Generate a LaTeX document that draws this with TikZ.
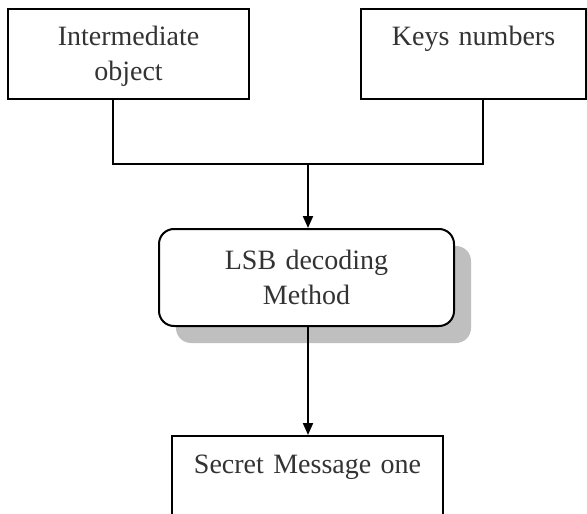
\documentclass[tikz,border=0pt]{standalone}
\usepackage{fontspec}
\setmainfont{Liberation Serif}
\usetikzlibrary{arrows.meta,shadows}
\colorlet{tcol}{black!80}
\tikzstyle{box}=[draw, line width=1pt, inner xsep=0pt, inner ysep=0pt, align=center, text=tcol, text height=18.5pt, font=\fontsize{14}{17.5}\selectfont]
\tikzstyle{roundbox}=[draw, line width=1pt, rounded corners=7.5pt, fill=white, align=center, text=tcol, inner sep=0pt, font=\fontsize{14}{17.5}\selectfont, drop shadow={shadow xshift=8.5pt, shadow yshift=-8.5pt, fill=black!25, opacity=1}]
\tikzstyle{edge}=[line width=1pt, -{Triangle[length=6pt,width=5pt]}]

\begin{document}
\begin{tikzpicture}[x=0.5pt, y=-0.5pt]
			\useasboundingbox (0,0) rectangle (587,513);

			\node[box, text width=120.5pt, text depth=26.5pt] (inter) at (128.5, 54) {Intermediate\\object};
			\node[box, text width=112.5pt, text depth=26.5pt] (keys) at (473.5, 54) {Keys numbers};
			\node[roundbox, text width=147.5pt, minimum height=48.5pt] (lsb) at (306.5, 277.5) {LSB decoding\\Method};
			\node[box, text width=135.5pt, text depth=40pt, anchor=north] (msg) at (307.5, 435) {Secret Message one};

			\coordinate (jl) at (112.5, 164);
			\coordinate (jr) at (483, 164);
			\coordinate (jm) at (308, 164);

			% Join
			\draw[edge, -] (inter.south -| jl) -- (jl) -- (jr) -- (keys.south -| jr);
			% Arrows
			\draw[edge] (jm) -- (lsb.north -| jm);
			\draw[edge] (lsb.south -| jm) -- (msg.north -| jm);
		\end{tikzpicture}
\end{document}
